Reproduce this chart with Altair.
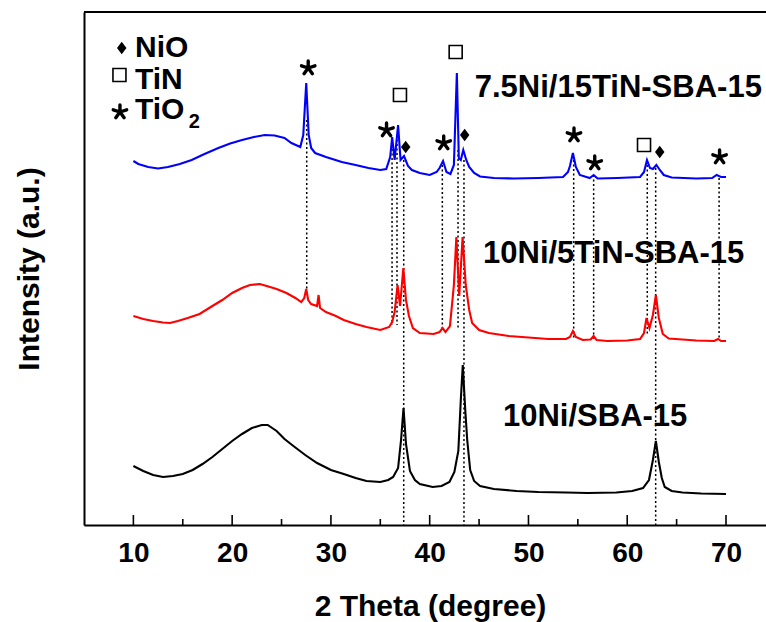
import altair as alt
import pandas as pd

# ---------------- data ----------------
# 10Ni/SBA-15 (black)
black_theta = [10.0, 11.0, 12.0, 13.0, 14.0, 15.0, 16.0, 17.0, 18.0, 19.0, 20.0, 21.0, 22.0, 23.0, 23.6,
               24.5, 25.3, 26.2, 27.4, 28.6, 30.0, 31.3, 32.5, 33.6, 35.0, 35.8, 36.3, 36.8, 37.1, 37.35,
               37.6, 38.0, 38.5, 39.0, 40.3, 41.2, 42.0, 42.5, 42.9, 43.15, 43.35, 43.6, 43.8, 44.1, 44.5,
               45.1, 46.5, 48.8, 51.0, 53.8, 56.0, 58.9, 60.5, 61.6, 62.2, 62.6, 62.9, 63.2, 63.5, 63.8,
               64.5, 65.6, 67.5, 70.0]
black_int = [59, 54, 50, 48, 49, 51, 55, 61, 68, 76, 84, 91, 97, 100, 100,
             94, 86, 79, 70, 62, 55, 51, 47, 44, 43, 45, 48, 57, 85, 117,
             81, 54, 45, 41, 38, 39, 43, 53, 74, 125, 160, 115, 85, 55, 44,
             39, 36, 34, 33, 32.5, 32, 32.5, 34, 37, 45, 65, 84, 63, 47, 38,
             34, 32.5, 31.5, 31]

# 10Ni/5TiN-SBA-15 (red)
red_theta = [10.0, 11.0, 12.0, 13.0, 13.7, 14.5, 15.5, 16.7, 18.0, 19.0, 20.0, 21.0, 21.8, 22.8, 23.5,
             24.5, 25.5, 26.4, 27.0, 27.3, 27.5, 27.7, 28.0, 28.6, 28.75, 28.9, 29.5, 30.5, 31.3, 32.5,
             33.6, 35.0, 35.9, 36.2, 36.45, 36.75, 37.0, 37.33, 37.6, 37.9, 38.3, 39.0, 40.4, 41.0, 41.3,
             41.6, 42.05, 42.45, 42.7, 42.99, 43.33, 43.65, 44.0, 44.3, 45.0, 46.0, 48.0, 50.0, 52.0, 53.8,
             54.2, 54.5, 54.8, 55.5, 56.3, 56.6, 56.9, 58.0, 60.0, 61.3, 61.7, 61.95, 62.25, 62.6, 62.9,
             63.2, 63.6, 64.2, 65.6, 67.0, 68.8, 69.2, 69.5, 70.0]
red_int = [209, 206, 204, 202.5, 202, 204, 207, 211, 219, 225, 232, 237, 240, 241, 239,
           236, 232, 227, 223, 227, 236, 225, 221, 219, 230, 217, 213, 209, 205, 201,
           198, 195, 198, 203, 213, 240, 219, 257, 225, 209, 197, 192, 191, 193, 197,
           193, 199, 240, 288, 229, 288, 240, 215, 202, 195, 192, 189, 187.5, 186, 186,
           188, 194, 188, 185, 185.5, 189, 185, 184, 184.5, 186, 192, 207, 197, 210, 230,
           207, 191, 186.5, 185.5, 184.5, 184, 186, 184, 184]

# 7.5Ni/15TiN-SBA-15 (blue)
blue_theta = [10.0, 10.5, 11.5, 12.5, 13.5, 14.7, 15.9, 17.2, 18.6, 19.8, 21.0, 22.2, 23.3, 24.3, 25.3,
              26.0, 26.9, 27.2, 27.5, 27.75, 28.0, 28.4, 29.5, 31.1, 32.5, 33.8, 35.0, 35.6, 36.0, 36.2,
              36.45, 36.8, 37.05, 37.4, 37.8, 38.2, 39.0, 40.0, 40.7, 41.0, 41.35, 41.7, 42.1, 42.45, 42.75,
              42.95, 43.15, 43.4, 43.7, 44.0, 44.5, 45.1, 46.5, 48.5, 51.0, 53.5, 54.0, 54.2, 54.5, 54.8,
              55.2, 56.2, 56.6, 57.0, 59.0, 61.3, 61.7, 62.0, 62.3, 62.6, 62.95, 63.3, 63.7, 64.5, 67.0,
              68.6, 69.05, 69.5, 70.0]
blue_int = [364, 361, 358, 356.5, 358, 361, 365, 371, 377, 381.5, 385, 388, 390, 389.5, 387,
            382, 378, 390, 442, 390, 377, 372, 368, 363, 360, 357, 355, 356, 368, 388,
            365, 400, 365, 369, 359, 355, 352, 350, 353, 357, 364, 353, 351, 360, 452,
            367, 365, 375, 365, 358, 352, 348.5, 347, 346.5, 347, 348, 353, 359, 372, 358,
            350, 347, 350, 346.5, 347, 348, 353, 365, 357, 356, 360, 355, 350, 347.5, 346.5,
            347, 350, 348, 348]

series_names = ["7.5Ni/15TiN-SBA-15", "10Ni/5TiN-SBA-15", "10Ni/SBA-15"]
series_colors = ["#0000ff", "#ff0000", "#000000"]

# reference (dotted) lines: position, upper end, lower end
ref_theta = [27.55, 36.19, 36.69, 37.37, 41.28, 42.87, 43.47, 54.58, 56.6, 62.03, 62.88, 69.3]
ref_top = [405, 385, 390, 365, 360, 375, 365, 365, 350, 360, 357, 347]
ref_bottom = [235, 200, 200, 0, 195, 195, 0, 185, 185, 190, 0, 185]

# phase markers
star_theta = [27.7, 35.63, 41.42, 54.61, 56.71, 69.35, 8.64]
star_int = [457, 395, 382, 390, 362, 368, 413]
square_theta = [36.99, 42.63, 61.70, 8.59]
square_int = [430, 473, 380, 450]
diamond_theta = [37.57, 43.54, 63.29, 8.82]
diamond_int = [378, 390, 373, 477]

legend_text = ["NiO", "TiN", "TiO"]
legend_theta = [10.16, 10.16, 10.16]
legend_int = [468, 436, 406]
sub_text = ["2"]
sub_theta = [15.6]
sub_int = [397]

label_theta = [44.56, 45.40, 47.42]
label_int = [428, 262, 99]

major_ticks = [10, 20, 30, 40, 50, 60, 70]
minor_ticks = [15, 25, 35, 45, 55, 65]

# ---------------- build ----------------
FONT = "Liberation Sans"
W, H = 682, 513
xs = alt.Scale(domain=[5, 74.05], nice=False, zero=False)
ys = alt.Scale(domain=[0, 513], nice=False, zero=False)

rows = []
for name, th, iv in [(series_names[0], blue_theta, blue_int),
                     (series_names[1], red_theta, red_int),
                     (series_names[2], black_theta, black_int)]:
    for t, v in zip(th, iv):
        rows.append({"series": name, "theta": t, "intensity": v})
curves_df = pd.DataFrame(rows)

refs_df = pd.DataFrame({"theta": ref_theta, "top": ref_top, "bottom": ref_bottom})
stars_df = pd.DataFrame({"theta": star_theta, "intensity": star_int})
squares_df = pd.DataFrame({"theta": square_theta, "intensity": square_int})
diamonds_df = pd.DataFrame({"theta": diamond_theta, "intensity": diamond_int})
legend_df = pd.DataFrame({"theta": legend_theta, "intensity": legend_int, "text": legend_text})
sub_df = pd.DataFrame({"theta": sub_theta, "intensity": sub_int, "text": sub_text})
labels_df = pd.DataFrame({"theta": label_theta, "intensity": label_int, "text": series_names})
major_df = pd.DataFrame({"theta": major_ticks})
minor_df = pd.DataFrame({"theta": minor_ticks})

x_axis = alt.Axis(values=major_ticks, ticks=False, tickSize=0, grid=False,
                  domainColor="#000000", domainWidth=2,
                  labelFont=FONT, labelFontSize=28, labelFontWeight="bold", labelColor="#000000",
                  labelPadding=36, labelBaseline="alphabetic",
                  title="2 Theta (degree)", titleFont=FONT, titleFontSize=30, titleFontWeight="bold",
                  titleColor="#000000", titleX=346, titleY=90, titleAlign="center",
                  titleBaseline="alphabetic")
y_axis = alt.Axis(labels=False, ticks=False, tickSize=0, grid=False,
                  domainColor="#000000", domainWidth=2,
                  title="Intensity (a.u.)", titleFont=FONT, titleFontSize=30, titleFontWeight="bold",
                  titleColor="#000000", titleX=-46, titleY=256.5, titleAngle=270, titleAlign="center",
                  titleBaseline="alphabetic")

X = alt.X("theta:Q", scale=xs, axis=x_axis, title="2 Theta (degree)")


def Y(field):
    return alt.Y(field, scale=ys, axis=y_axis, title="Intensity (a.u.)")


refs = alt.Chart(refs_df).mark_rule(color="#000000", strokeWidth=1.5, strokeDash=[2, 2.5]).encode(
    x=X, y=Y("top:Q"), y2="bottom:Q",
)

curves = alt.Chart(curves_df).mark_line(strokeWidth=2.1).encode(
    x=X, y=Y("intensity:Q"),
    color=alt.Color("series:N", scale=alt.Scale(domain=series_names, range=series_colors), legend=None),
    order=alt.Order("theta:Q"),
)

star_path = "M0,0L0,-1M0,0L0.95,-0.31M0,0L0.59,0.81M0,0L-0.59,0.81M0,0L-0.95,-0.31"
stars = alt.Chart(stars_df).mark_point(shape=star_path, filled=False, size=200, strokeWidth=3.4,
                                       strokeCap="round", color="#000000", opacity=1).encode(
    x=X, y=Y("intensity:Q"),
)
squares = alt.Chart(squares_df).mark_point(shape="square", filled=False, size=169, strokeWidth=1.6,
                                           color="#000000", opacity=1).encode(
    x=X, y=Y("intensity:Q"),
)
diamond_path = "M0,-1L0.75,0L0,1L-0.75,0Z"
diamonds = alt.Chart(diamonds_df).mark_point(shape=diamond_path, filled=True, size=160,
                                             color="#000000", opacity=1).encode(
    x=X, y=Y("intensity:Q"),
)

text_kw = dict(font=FONT, fontWeight="bold", color="#000000", align="left", baseline="alphabetic")
legend_txt = alt.Chart(legend_df).mark_text(fontSize=30, **text_kw).encode(
    x=X, y=Y("intensity:Q"), text="text:N",
)
sub_txt = alt.Chart(sub_df).mark_text(fontSize=20, **text_kw).encode(
    x=X, y=Y("intensity:Q"), text="text:N",
)
labels = alt.Chart(labels_df).mark_text(fontSize=31, **text_kw).encode(
    x=X, y=Y("intensity:Q"), text="text:N",
)

major = alt.Chart(major_df).mark_rule(color="#000000", strokeWidth=1.6).encode(
    x=X, y=alt.value(H), y2=alt.value(H - 10),
)
minor = alt.Chart(minor_df).mark_rule(color="#000000", strokeWidth=1.6).encode(
    x=X, y=alt.value(H), y2=alt.value(H - 6),
)
top_border = alt.Chart(major_df).mark_rule(color="#000000", strokeWidth=2).encode(
    x=alt.value(0), x2=alt.value(W), y=alt.value(0),
)

chart = alt.layer(
    refs, curves, stars, squares, diamonds, legend_txt, sub_txt, labels, major, minor, top_border
).properties(
    width=W, height=H,
    autosize=alt.AutoSizeParams(type="none"),
    padding={"left": 84, "top": 12, "right": 0, "bottom": 97},
    background="#ffffff",
).configure_view(stroke=None)

chart.save("out.html", embed_options={"renderer": "svg", "actions": False})
